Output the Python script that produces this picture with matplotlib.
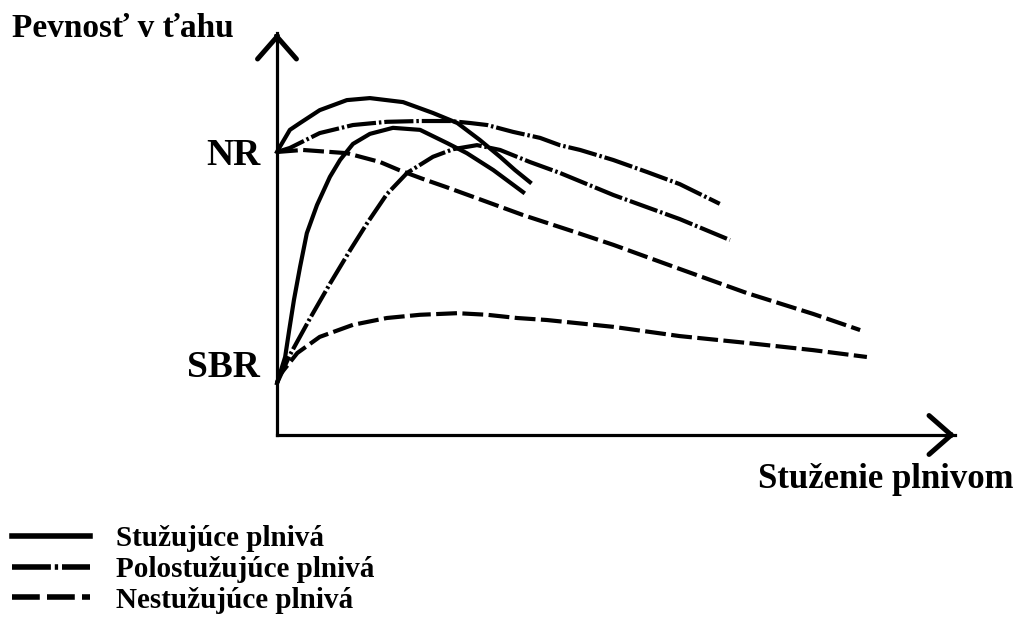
import numpy as np
import matplotlib
matplotlib.use('Agg')
import matplotlib.pyplot as plt

# schematic values (arbitrary units, 0-100)
# reinforcing fillers (solid)
x_reinf_nr = [0, 0.4, 1.9, 3.4, 6.3, 10.3, 13.7, 18.6, 23.0, 26.6, 29.9, 32.9, 35.1, 37.3]
y_reinf_nr = [70.4, 71.6, 75.9, 77.6, 80.8, 83.3, 83.8, 82.8, 80.1, 77.6, 73.4, 69.2, 65.9, 62.9]
x_reinf_sbr = [0, 1.2, 1.8, 2.5, 3.4, 4.4, 5.9, 7.8, 9.3, 11.2, 13.7, 17.1, 21.1, 25.1, 28.0, 31.9, 36.3]
y_reinf_sbr = [12.9, 19.4, 26.1, 33.6, 41.8, 50.2, 57.2, 64.2, 68.4, 72.4, 74.9, 76.4, 75.9, 72.6, 70.1, 65.9, 60.4]

# semi-reinforcing fillers (dash-dot)
x_semi_nr = [0, 1.9, 6.3, 11.2, 16.2, 21.1, 25.5, 28.5, 31.0, 34.8, 38.8, 41.7, 44.7, 49.6, 54.6, 59.4, 65.3]
y_semi_nr = [70.4, 71.4, 75.1, 77.1, 77.9, 78.1, 78.1, 77.6, 77.1, 75.4, 73.9, 72.1, 70.9, 68.4, 65.4, 62.4, 57.5]
x_semi_sbr = [0, 1.9, 4.9, 7.8, 10.8, 13.3, 16.2, 19.2, 23.0, 26.0, 29.5, 32.9, 37.3, 41.7, 49.6, 59.4, 66.8]
y_semi_sbr = [12.9, 19.9, 29.1, 37.6, 46.0, 52.7, 59.9, 65.2, 69.2, 71.1, 72.1, 70.9, 67.9, 65.2, 59.7, 53.7, 48.5]

# non-reinforcing fillers (dashed)
x_non_nr = [0, 3.8, 10.3, 15.2, 18.0, 21.5, 24.9, 29.8, 36.3, 44.1, 49.6, 59.4, 69.3, 79.1, 86.0]
y_non_nr = [70.4, 70.9, 70.1, 67.9, 65.9, 63.7, 61.7, 58.7, 54.7, 50.4, 47.3, 41.3, 35.3, 30.1, 26.1]
x_non_sbr = [0, 0.4, 3.0, 6.3, 11.2, 16.2, 21.1, 26.6, 31.0, 35.4, 39.8, 49.6, 59.4, 69.3, 79.1, 87.0]
y_non_sbr = [12.9, 14.9, 20.4, 24.4, 27.4, 29.1, 29.9, 30.3, 29.9, 29.1, 28.6, 26.9, 24.6, 22.9, 21.1, 19.4]

rubber_labels = ['NR', 'SBR']
rubber_label_y = [70.4, 17.9]
legend_labels = ['Stužujúce plnivá', 'Polostužujúce plnivá', 'Nestužujúce plnivá']

plt.rcParams['font.family'] = ['Liberation Serif', 'DejaVu Serif']
plt.rcParams['font.weight'] = 'bold'
plt.rcParams['axes.labelweight'] = 'bold'

fig = plt.figure(figsize=(10.21, 6.34), dpi=100)
ax = fig.add_axes([0.2713, 0.3139, 0.6641, 0.6341])
ax.set_xlim(0, 100)
ax.set_ylim(0, 100)
for side in ['top', 'right']:
    ax.spines[side].set_visible(False)
for side in ['left', 'bottom']:
    ax.spines[side].set_linewidth(2.3)
    ax.spines[side].set_capstyle('projecting')

solid = '-'
dashdot = (0, (7, 0.7, 0.6, 0.7))
dashed = (0, (5, 1.3))
lw = 3

ax.plot(x_reinf_nr, y_reinf_nr, ls=solid, lw=lw, color='black', clip_on=False, label=legend_labels[0])
ax.plot(x_reinf_sbr, y_reinf_sbr, ls=solid, lw=lw, color='black', clip_on=False)
ax.plot(x_semi_nr, y_semi_nr, ls=dashdot, lw=lw, color='black', clip_on=False, label=legend_labels[1])
ax.plot(x_semi_sbr, y_semi_sbr, ls=dashdot, lw=lw, color='black', clip_on=False)
ax.plot(x_non_nr, y_non_nr, ls=dashed, lw=lw, color='black', clip_on=False, label=legend_labels[2])
ax.plot(x_non_sbr, y_non_sbr, ls=dashed, lw=lw, color='black', clip_on=False)

# arrow heads at the ends of both axes
arrow = dict(arrowstyle='->,head_length=1.6,head_width=1.4', lw=3.6, color='black',
             shrinkA=0, shrinkB=0, mutation_scale=10, capstyle='round', joinstyle='miter')
ax.annotate('', xy=(0, 1), xytext=(0, 0.995), xycoords='axes fraction', arrowprops=arrow)
ax.annotate('', xy=(1, 0), xytext=(0.995, 0), xycoords='axes fraction', arrowprops=arrow)

ax.set_xticks([])
ax.set_yticks(rubber_label_y, rubber_labels)
ax.tick_params(axis='y', length=0, pad=12, labelsize=27)

ax.set_ylabel('Pevnosť v ťahu', rotation=0, ha='left', va='center', fontsize=24)
ax.yaxis.set_label_coords(-0.391, 1.012)
ax.set_xlabel('Stuženie plnivom', loc='right', fontsize=25)
ax.xaxis.set_label_coords(1.0855, -0.07)

leg = ax.legend(loc='upper left', bbox_to_anchor=(0.012, 0.172), bbox_transform=fig.transFigure,
                frameon=False, fontsize=21, handlelength=2.65, handletextpad=0.9,
                labelspacing=0.13, borderpad=0, borderaxespad=0)
for h in leg.get_lines():
    h.set_linewidth(4)

fig.savefig('out.png', dpi=100)
